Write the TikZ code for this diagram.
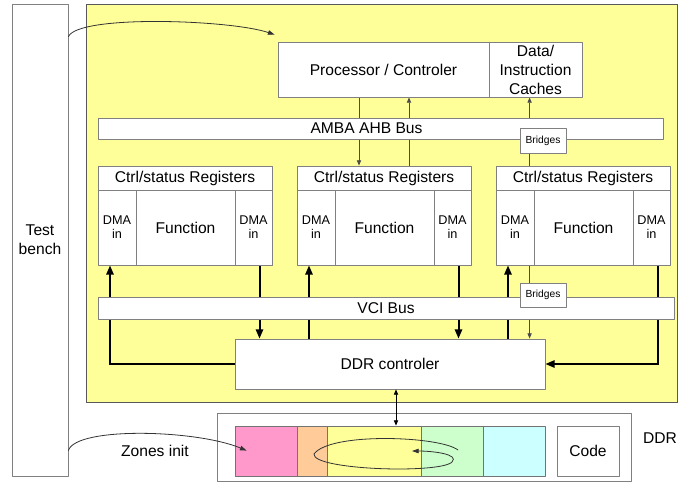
\documentclass[tikz,border=0pt]{standalone}
\usepackage{fontspec}
\setmainfont{Liberation Sans}
\usepackage{tikz}
\usetikzlibrary{
  arrows.meta,
  calc
}
\definecolor{SocYellow}{HTML}{FFFF99}
\definecolor{ZonePink}{HTML}{FF99CC}
\definecolor{ZoneOrange}{HTML}{FFCC99}
\definecolor{ZoneYellow}{HTML}{FFFF99}
\definecolor{ZoneGreen}{HTML}{CCFFCC}
\definecolor{ZoneCyan}{HTML}{CCFFFF}
\definecolor{BoxGray}{HTML}{808080}
\pgfdeclarelayer{socfill}
\pgfdeclarelayer{wires}
\pgfsetlayers{socfill,wires,main}
\tikzset{
  every picture/.style = {line join=round, line cap=round},
  every node/.style = {font=\fontsize{11.7}{14.2}\selectfont, text=black},
  span/.style args = {#1/#2/#3/#4}{
    minimum width={(#3-(#1))*0.75pt},
    minimum height={(#4-(#2))*0.75pt},
    at={({((#1)+(#3))/2},{((#2)+(#4))/2})}
  },
  block/.style = {
    draw=BoxGray,
    fill=white,
    line width=0.6pt,
    inner sep=0pt,
    align=center
  },
  soc/.style = {draw=black!65, fill=SocYellow, line width=0.6pt, inner sep=0pt},
  zone/.style = {draw=black!55, line width=0.6pt, inner sep=0pt},
  bridge/.style = {block, font=\fontsize{7.7}{9}\selectfont},
  dma cell/.style = {block, font=\fontsize{9.5}{10.6}\selectfont},
  dma wire/.style = {-{Triangle[length=7pt,width=5.5pt]}, draw=black, line width=1.5pt},
  ctrl wire/.style = {-{Triangle[length=4pt,width=3.2pt]}, draw=black!70, line width=0.7pt},
  bench wire/.style = {-{Triangle[length=5pt,width=3.4pt]}, draw=black!80, line width=0.6pt},
  mem wire/.style = {{Triangle[length=4pt,width=3.2pt]}-{Triangle[length=4pt,width=3.2pt]}, draw=black, line width=0.6pt},
}

\begin{document}
\begin{tikzpicture}[x=0.75pt,y=-0.75pt]
  \useasboundingbox (0,0) rectangle (685,483);

  % test bench and SoC frame
  \node[block, span=12/4/68/476] (bench) {Test\\bench};
  \begin{pgfonlayer}{socfill}
    \node[soc, span=86/4/677/402] (soc) {};
  \end{pgfonlayer}

  % processor side
  \node[block, span=278/42/489/97] (proc) {Processor / Controler};
  \node[block, span=489/42/582/97] (cache) {Data/\\Instruction\\Caches};
  \node[block, span=98/118/663/139] (amba) {};
  \node (ambaLbl) at ($(amba.center)+(-14,0)$) {AMBA AHB Bus};
  \node[bridge, span=520/128/566/153] (bridgeUp) {Bridges};

  % function blocks
  \foreach \g/\x in {A/98, B/297, C/496} {
    \node[block, span=\x/166/\x+174/190] (reg\g) {Ctrl/status Registers};
    \node[dma cell, span=\x/190/\x+38/265] (dmaL\g) {DMA\\in};
    \node[block, span=\x+38/190/\x+137/265] (fun\g) {Function};
    \node[dma cell, span=\x+137/190/\x+174/265] (dmaR\g) {DMA\\in};
  }

  \node[block, span=98/297/674/319] (vci) {VCI Bus};
  \node[bridge, span=520/283/566/307] (bridgeLo) {Bridges};
  \node[block, span=235/339/545/389] (ddrc) {DDR controler};

  % memory
  \node[block, span=217/413/631/481] (ddr) {};
  \node (ddrLbl) at (660,438) {DDR};
  \node[zone, fill=ZonePink, span=235/426/297/476] (zPink) {};
  \node[zone, fill=ZoneOrange, span=297/426/327/476] (zOrange) {};
  \node[zone, fill=ZoneYellow, span=327/426/421/476] (zYellow) {};
  \node[zone, fill=ZoneGreen, span=421/426/483/476] (zGreen) {};
  \node[zone, fill=ZoneCyan, span=483/426/545/476] (zCyan) {};
  \node[block, span=557/426/619/476] (code) {Code};
  \node (zonesLbl) at (155,451) {Zones init};

  % taps
  \coordinate (tapLA) at ($(dmaLA.south)+(-7,0)$);
  \coordinate (tapRA) at ($(dmaRA.south)+(6,0)$);
  \coordinate (tapLB) at ($(dmaLB.south)+(-7,0)$);
  \coordinate (tapRB) at ($(dmaRB.south)+(6,0)$);
  \coordinate (tapLC) at ($(dmaLC.south)+(-7,0)$);
  \coordinate (tapRC) at ($(dmaRC.south)+(6,0)$);
  \coordinate (tapBr) at ($(dmaLC.south west)+(34,0)$);
  \coordinate (cfgDown) at ($(regB.north)+(-25,0)$);
  \coordinate (cfgUp) at ($(regB.north)+(25,0)$);
  \coordinate (cfgBr) at ($(regC.north west)+(34,0)$);
  \coordinate (memTap) at ($(ddrc.south)+(6,0)$);

  \begin{pgfonlayer}{wires}
    \draw[ctrl wire] (cfgDown |- proc.south) -- (cfgDown);
    \draw[ctrl wire] (cfgUp) -- (cfgUp |- proc.south);
    \draw[ctrl wire] (cfgBr) -- (cfgBr |- cache.south);

    \draw[dma wire] (ddrc.west) -| (tapLA);
    \draw[dma wire] (tapRA) -- (tapRA |- ddrc.north);
    \draw[dma wire] (tapLB |- ddrc.north) -- (tapLB);
    \draw[dma wire] (tapRB) -- (tapRB |- ddrc.north);
    \draw[dma wire] (tapLC |- ddrc.north) -- (tapLC);
    \draw[ctrl wire] (tapBr) -- (tapBr |- ddrc.north);
    \draw[dma wire] (tapRC) |- (ddrc.east);
  \end{pgfonlayer}

  \draw[mem wire] (memTap) -- (memTap |- zYellow.north);

  % test bench accesses
  \coordinate (benchTop) at ($(bench.north east)+(0,33)$);
  \coordinate (procIn) at ($(proc.north west)+(-3,-7)$);
  \coordinate (benchLow) at ($(bench.south east)+(0,-26)$);
  \coordinate (zoneIn) at ($(zPink.north west)+(12,25)$);
  \draw[bench wire] (benchTop) .. controls +(10,-22) and +(-45,-15) .. (procIn);
  \draw[bench wire] (benchLow) .. controls +(8,-24) and +(-50,-21) .. (zoneIn);

  % buffer loop
  \draw[bench wire] (458,450) .. controls (440,436) and (330,432) .. (314,454)
    .. controls (312,470) and (440,474) .. (452,462)
    .. controls (460,454) and (432,451) .. (412,451);
\end{tikzpicture}
\end{document}
